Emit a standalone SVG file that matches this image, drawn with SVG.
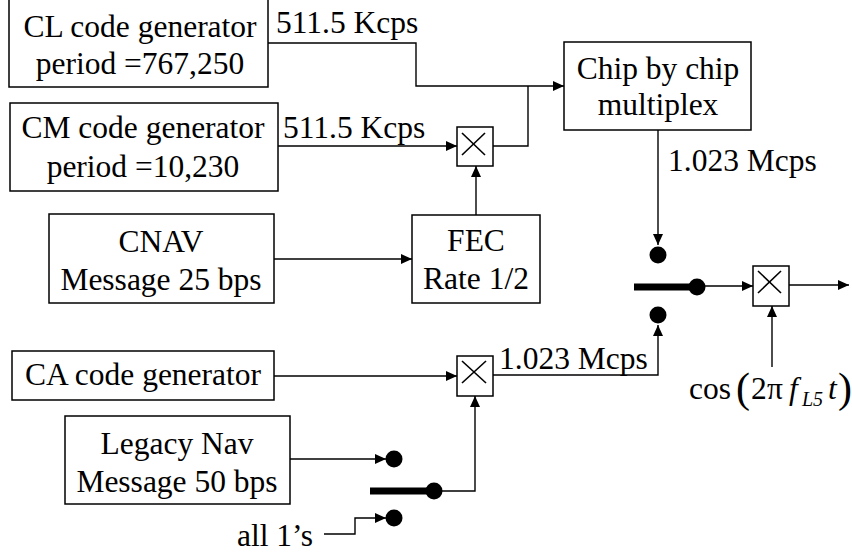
<svg xmlns="http://www.w3.org/2000/svg" width="852" height="556" viewBox="0 0 852 556">
<defs>
<marker id="arr" markerUnits="userSpaceOnUse" markerWidth="11" markerHeight="10" refX="11" refY="5" orient="auto">
<path d="M0,0 L11,5 L0,10 Z" fill="#000"/>
</marker>
<style>
.box{fill:#fff;stroke:#000;stroke-width:1.5}
.ln{fill:none;stroke:#000;stroke-width:1.4}
.t{font-family:'Liberation Serif',Tinos,'Times New Roman',Times,'DejaVu Serif','Noto Serif',serif;font-size:31.5px;fill:#000}
.m{text-anchor:middle}
.x{stroke:#000;stroke-width:1.6}
.dot{fill:#000}
.bar{stroke:#000;stroke-width:7}
</style>
</defs>
<rect width="852" height="556" fill="#fff"/>

<g id="connectors">
<polyline class="ln" points="268,43 416,43 416,86 564,86" marker-end="url(#arr)"/>
<polyline class="ln" points="493,146 528,146 528,86"/>
<line class="ln" x1="278" y1="146" x2="457" y2="146" marker-end="url(#arr)"/>
<line class="ln" x1="476" y1="215" x2="476" y2="166" marker-end="url(#arr)"/>
<line class="ln" x1="274" y1="259" x2="412" y2="259" marker-end="url(#arr)"/>
<line class="ln" x1="658" y1="130" x2="658" y2="245" marker-end="url(#arr)"/>
<line class="ln" x1="274" y1="376" x2="457" y2="376" marker-end="url(#arr)"/>
<polyline class="ln" points="493,375 658,375 658,325" marker-end="url(#arr)"/>
<line class="ln" x1="697" y1="286" x2="753" y2="286" marker-end="url(#arr)"/>
<line class="ln" x1="789" y1="285" x2="849" y2="285" marker-end="url(#arr)"/>
<line class="ln" x1="772" y1="367" x2="772" y2="306" marker-end="url(#arr)"/>
<line class="ln" x1="290" y1="459" x2="386" y2="459" marker-end="url(#arr)"/>
<polyline class="ln" points="434,491 475,491 475,396" marker-end="url(#arr)"/>
<polyline class="ln" points="324,534 355,534 355,518 386,518" marker-end="url(#arr)"/>
</g>

<g id="cl_gen">
<rect class="box" x="9" y="-1" width="259" height="88"/>
<text class="t m" x="140" y="37">CL code generator</text>
<text class="t m" x="140" y="74">period =767,250</text>
</g>
<g id="cl_rate"><text class="t" x="276" y="33">511.5 Kcps</text></g>

<g id="cm_gen">
<rect class="box" x="10" y="103" width="268" height="88"/>
<text class="t m" x="143" y="138">CM code generator</text>
<text class="t m" x="143" y="177">period =10,230</text>
</g>
<g id="cm_rate"><text class="t" x="283" y="138">511.5 Kcps</text></g>

<g id="mult1">
<rect class="box" x="457" y="127" width="36" height="39"/>
<line class="x" x1="462" y1="133" x2="485" y2="155"/>
<line class="x" x1="485" y1="133" x2="462" y2="155"/>
</g>

<g id="chip_mux">
<rect class="box" x="564" y="42" width="187" height="88"/>
<text class="t m" x="658" y="79">Chip by chip</text>
<text class="t m" x="658" y="115">multiplex</text>
</g>
<g id="mux_rate"><text class="t" x="668" y="171">1.023 Mcps</text></g>

<g id="cnav">
<rect class="box" x="49" y="214" width="225" height="89"/>
<text class="t m" x="161" y="252">CNAV</text>
<text class="t m" x="161" y="290">Message 25 bps</text>
</g>

<g id="fec">
<rect class="box" x="412" y="215" width="128" height="88"/>
<text class="t m" x="476" y="251">FEC</text>
<text class="t m" x="476" y="289">Rate 1/2</text>
</g>

<g id="switch1">
<circle class="dot" cx="658" cy="255" r="8.5"/>
<circle class="dot" cx="658" cy="315" r="8.5"/>
<line class="bar" x1="634" y1="287" x2="697" y2="287"/>
<circle class="dot" cx="697" cy="287" r="8.5"/>
</g>

<g id="mult_out">
<rect class="box" x="753" y="266" width="36" height="40"/>
<line class="x" x1="758" y1="271" x2="781" y2="293"/>
<line class="x" x1="781" y1="271" x2="758" y2="293"/>
</g>

<g id="carrier">
<text class="t" y="399"><tspan x="689">cos</tspan><tspan x="736" y="402" font-size="42">(</tspan><tspan x="751" y="399">2</tspan><tspan x="767" y="399">π</tspan><tspan x="789" y="399" font-style="italic">f</tspan><tspan x="802" y="406" font-style="italic" font-size="20">L5</tspan><tspan x="828" y="399" font-style="italic">t</tspan><tspan x="838" y="402" font-size="42">)</tspan></text>
</g>

<g id="ca_gen">
<rect class="box" x="12" y="351" width="262" height="49"/>
<text class="t m" x="143" y="385">CA code generator</text>
</g>

<g id="mult2">
<rect class="box" x="457" y="356" width="36" height="40"/>
<line class="x" x1="462" y1="361" x2="486" y2="383"/>
<line class="x" x1="486" y1="361" x2="462" y2="383"/>
</g>
<g id="ca_rate"><text class="t" x="499" y="369">1.023 Mcps</text></g>

<g id="legacy">
<rect class="box" x="65" y="416" width="225" height="88"/>
<text class="t m" x="177" y="454">Legacy Nav</text>
<text class="t m" x="177" y="492">Message 50 bps</text>
</g>

<g id="switch2">
<circle class="dot" cx="394" cy="459" r="8.5"/>
<circle class="dot" cx="394" cy="518" r="8.5"/>
<line class="bar" x1="370" y1="491" x2="434" y2="491"/>
<circle class="dot" cx="434" cy="491" r="8.5"/>
</g>

<g id="all_ones"><text class="t" x="237" y="546">all 1’s</text></g>
</svg>
